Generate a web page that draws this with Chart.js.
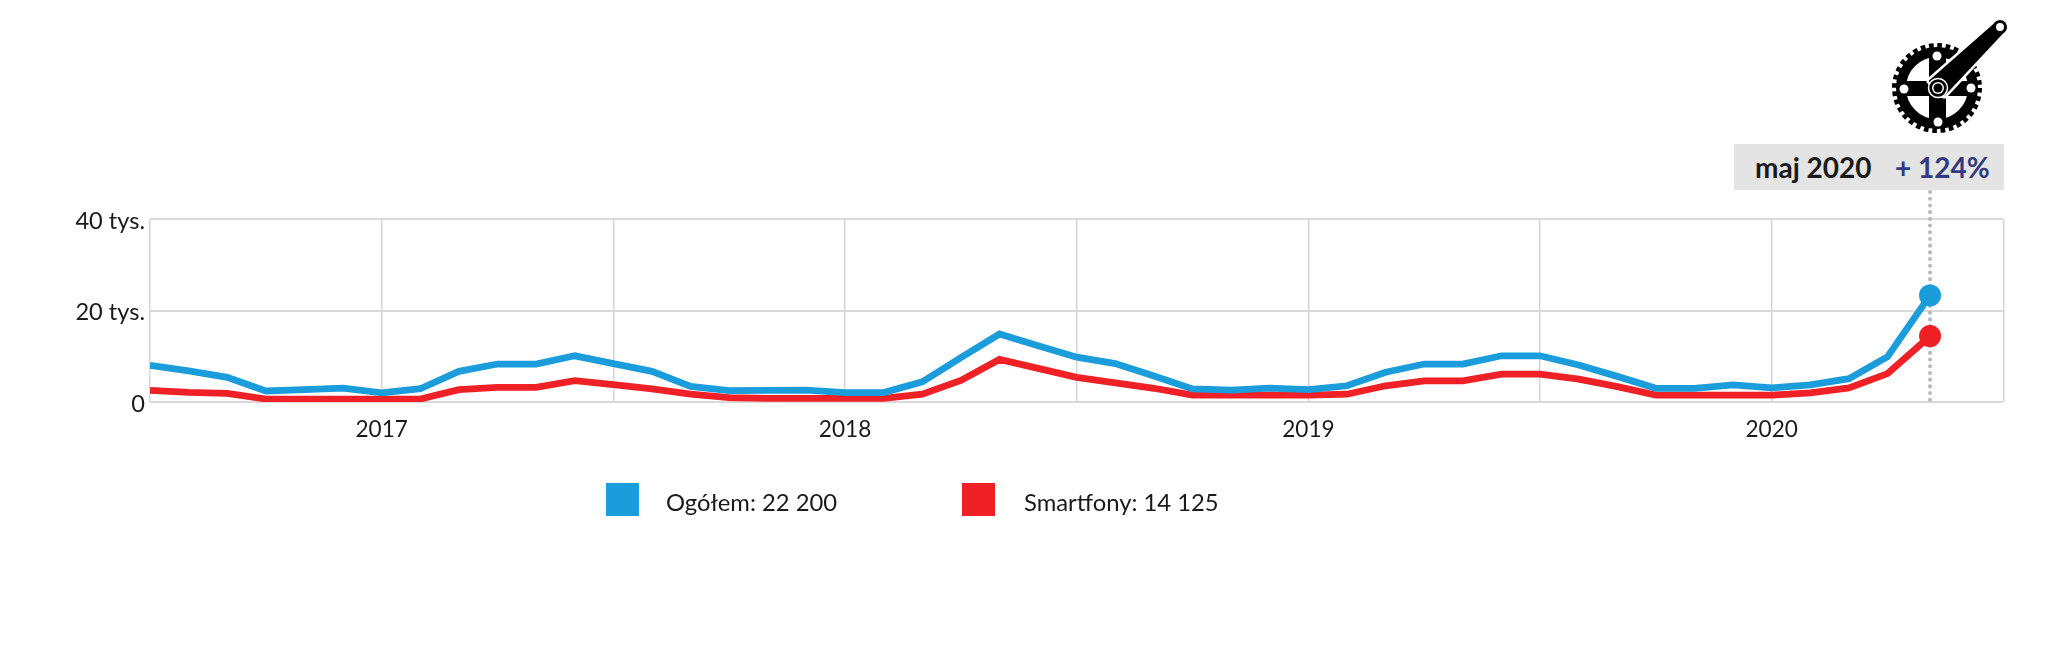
<!DOCTYPE html>
<html lang="pl"><head><meta charset="utf-8">
<script src="https://cdn.jsdelivr.net/npm/chart.js@4/dist/chart.umd.min.js"></script>
<style>
html,body{margin:0;padding:0;background:#fff;width:2048px;height:647px;overflow:hidden;font-family:Lato,sans-serif;color:#1a1a1a}
#wrap{position:relative;width:2048px;height:647px}
canvas{position:absolute;left:0;top:0}
.abs{position:absolute;white-space:nowrap}
#badge{left:1734px;top:144px;width:270px;height:46px;background:#e4e4e4}
#badgeDate{left:1755px;top:150px;font-size:28px;font-weight:700;line-height:34px;color:#1a1a1a}
#badgeChange{left:1895px;top:150px;font-size:28px;font-weight:700;line-height:34px;color:#333a80}
.sw{width:33px;height:33px;top:483px}
.lg{top:488px;font-size:23.8px;line-height:28px}
svg{position:absolute;left:0;top:0}
</style></head><body>
<div id="wrap">
<canvas id="c" width="2048" height="647"></canvas>
<div class="abs" id="badge"></div>
<div class="abs" id="badgeDate"></div>
<div class="abs" id="badgeChange"></div>
<div class="abs sw" id="sw0" style="left:606px"></div>
<div class="abs lg" id="lg0" style="left:666px"></div>
<div class="abs sw" id="sw1" style="left:962px"></div>
<div class="abs lg" id="lg1" style="left:1024px"></div>
<svg width="2048" height="200" viewBox="0 0 2048 200">
  <circle cx="1937" cy="88" r="41" fill="none" stroke="#000" stroke-width="8" stroke-dasharray="4.5 3.55"/>
  <circle cx="1937" cy="88" r="36" fill="none" stroke="#000" stroke-width="10"/>
  <rect x="1929" y="52" width="17" height="72" fill="#000"/>
  <rect x="1901" y="81" width="72" height="15" fill="#000"/>
  <circle cx="1937" cy="56" r="4.5" fill="#fff"/>
  <circle cx="1938" cy="122" r="4.5" fill="#fff"/>
  <circle cx="1904" cy="89" r="4.5" fill="#fff"/>
  <circle cx="1971" cy="88" r="4.5" fill="#fff"/>
  <polygon points="1944,95 1930,81 1996,23 2004,31" fill="#fff" stroke="#fff" stroke-width="7" stroke-linejoin="round"/>
  <polygon points="1944,95 1930,81 1996,23 2004,31" fill="#000" stroke="#000" stroke-width="2" stroke-linejoin="round"/>
  <circle cx="2000" cy="27" r="7" fill="#000"/>
  <circle cx="2000" cy="27" r="4" fill="#fff"/>
  <circle cx="1938" cy="88" r="9.5" fill="#000" stroke="#fff" stroke-width="1.5"/>
  <circle cx="1938" cy="88" r="6" fill="#fff"/>
  <circle cx="1938" cy="88" r="4.5" fill="#000"/>
</svg>
</div>
<script>
// months counted from 2016-07
const monthIndex = [0,1,2,3,4,5,6,7,8,9,10,11,12,13,14,15,16,17,18,19,20,21,22,23,24,25,26,27,28,29,30,31,32,33,34,35,36,37,38,39,40,41,42,43,44,45,46.1];
const ogolem = [8.0,6.8,5.4,2.4,2.7,3.05,2.0,2.9,6.7,8.3,8.3,10.1,8.4,6.7,3.4,2.5,2.55,2.6,2.05,2.05,4.4,9.7,14.85,12.3,9.8,8.4,5.7,2.85,2.6,3.05,2.7,3.55,6.5,8.3,8.3,10.1,10.1,8.1,5.6,3.0,3.0,3.75,3.1,3.75,5.1,9.9,23.3];
const smartfony = [2.55,2.1,1.9,0.65,0.65,0.65,0.65,0.65,2.7,3.2,3.2,4.65,3.8,2.85,1.7,0.95,0.8,0.8,0.8,0.8,1.7,4.7,9.3,7.35,5.4,4.2,3.0,1.5,1.5,1.5,1.5,1.7,3.55,4.6,4.6,6.1,6.1,5.0,3.35,1.5,1.5,1.5,1.5,2.0,3.1,6.2,14.4];
const yearLabels = {6:'2017',18:'2018',30:'2019',42:'2020'};
const yTickLabels = {0:'0',20:'20 tys.',40:'40 tys.'};
const seriesNames = ['Ogółem: 22 200','Smartfony: 14 125'];
const seriesColors = ['#1b9cdb','#ef2126'];
const badgeDate = 'maj 2020';
const badgeChange = '+ 124%';

document.getElementById('badgeDate').textContent = badgeDate;
document.getElementById('badgeChange').textContent = badgeChange;
seriesNames.forEach((n,i)=>{
  document.getElementById('lg'+i).textContent = n;
  document.getElementById('sw'+i).style.background = seriesColors[i];
});

const lastIdx = monthIndex.length-1;
const pts = a => a.map((v,i)=>({x:monthIndex[i],y:v}));
const lastRadius = c => c.dataIndex===lastIdx ? 11 : 0;

const cursor = {
  id:'cursor',
  beforeDatasetsDraw(ch){
    const x = ch.scales.x.getPixelForValue(monthIndex[lastIdx]);
    const g = ch.ctx; g.save();
    g.strokeStyle='#b9b9bd'; g.lineWidth=4; g.lineCap='round'; g.setLineDash([0.1,6.6]);
    g.beginPath(); g.moveTo(x,192); g.lineTo(x,ch.scales.y.getPixelForValue(0)+1); g.stroke();
    g.restore();
  }
};

new Chart(document.getElementById('c'),{
  type:'line',
  data:{datasets:[
    {label:seriesNames[0],data:pts(ogolem),borderColor:seriesColors[0],backgroundColor:seriesColors[0],borderWidth:6.8,tension:0,pointRadius:lastRadius,pointBorderWidth:0,borderJoinStyle:'miter',borderCapStyle:'butt'},
    {label:seriesNames[1],data:pts(smartfony),borderColor:seriesColors[1],backgroundColor:seriesColors[1],borderWidth:6.8,tension:0,pointRadius:lastRadius,pointBorderWidth:0,borderJoinStyle:'miter',borderCapStyle:'butt'}
  ]},
  plugins:[cursor],
  options:{
    responsive:false,animation:false,devicePixelRatio:1,
    layout:{padding:{left:0,top:219,right:44.6,bottom:0}},
    plugins:{legend:{display:false},tooltip:{enabled:false}},
    scales:{
      x:{type:'linear',min:0,max:48,
        afterFit(s){s.height=245;},
        border:{display:false},
        grid:{color:'#d6d6d6',lineWidth:1.5,drawTicks:false},
        ticks:{stepSize:6,autoSkip:false,maxRotation:0,padding:14,color:'#1a1a1a',font:{family:'Lato',size:22.6},callback:v=>yearLabels[v]||''}},
      y:{min:0,max:40,
        afterFit(s){s.width=150;},
        border:{display:false},
        grid:{color:'#d9d9d9',lineWidth:2,drawTicks:false},
        ticks:{stepSize:20,padding:5,color:'#1a1a1a',font:{family:'Lato',size:23.6,lineHeight:'4px'},callback:v=>['',yTickLabels[v]]}}
    }
  }
});
</script>
</body></html>
